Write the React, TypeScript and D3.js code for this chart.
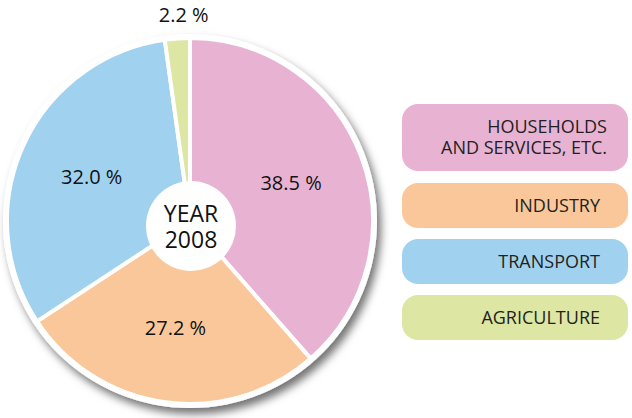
import React from "react";
import * as d3 from "d3";

const categories = ["HOUSEHOLDS AND SERVICES, ETC.", "INDUSTRY", "TRANSPORT", "AGRICULTURE"];
const legendLines = [["HOUSEHOLDS", "AND SERVICES, ETC."], ["INDUSTRY"], ["TRANSPORT"], ["AGRICULTURE"]];
const values = [38.5, 27.2, 32.0, 2.2];
const colors = ["#E8B3D3", "#FAC79A", "#A0D2EF", "#DDE6A3"];
const centerLines = ["YEAR", "2008"];

const W = 632;
const H = 418;
const cx = 190;
const cy = 221;
const R = 183;

export default function App() {
  const pie = d3
    .pie<number>()
    .sort(null)
    .value((d) => d)
    .startAngle(0)
    .endAngle(2 * Math.PI);
  const arcs = pie(values);
  const arc = d3.arc<d3.PieArcDatum<number>>().innerRadius(0).outerRadius(R);
  const labelArc = d3.arc<d3.PieArcDatum<number>>().innerRadius(108 * 2).outerRadius(0);
  const font = "'Open Sans', sans-serif";

  const legendY = d3.scaleOrdinal<number, number>().domain([0, 1, 2, 3]).range([104, 183, 239, 295]);

  return (
    <svg width={W} height={H} style={{ position: "absolute", left: 0, top: 0, background: "#fff" }}>
      <defs>
        <filter id="sh" x="-20%" y="-20%" width="140%" height="140%">
          <feDropShadow dx="4" dy="6" stdDeviation="4" floodColor="#000" floodOpacity="0.55" />
        </filter>
      </defs>
      <circle cx={cx} cy={cy} r={R + 4} fill="#fff" filter="url(#sh)" />
      <g transform={`translate(${cx},${cy})`}>
        {arcs.map((a, i) => (
          <path key={categories[i]} d={arc(a) || ""} fill={colors[i]} stroke="#fff" strokeWidth={4} strokeLinejoin="round" />
        ))}
        {arcs.map((a, i) => {
          const mid = (a.startAngle + a.endAngle) / 2;
          const r = values[i] < 5 ? 207 : 108;
          let x = Math.sin(mid) * r;
          let y = -Math.cos(mid) * r;
          if (values[i] < 5) x += 8;
          return (
            <text key={"l" + i} x={x} y={y} dy="0.36em" textAnchor="middle" fontFamily={font} fontSize={20} fill="#111">
              {`${values[i].toFixed(1)} %`}
            </text>
          );
        })}
      </g>
      <circle cx={cx + 1} cy={cy + 5} r={45} fill="#fff" />
      {centerLines.map((t, i) => (
        <text key={t} x={cx + 1} y={222 + i * 26} textAnchor="middle" fontFamily={font} fontSize={23} fill="#111">
          {t}
        </text>
      ))}
      {legendLines.map((lines, i) => {
        const y0 = legendY(i);
        const h = lines.length > 1 ? 67 : 45;
        const right = lines.length > 1 ? 607 : 600;
        return (
          <g key={categories[i]}>
            <rect x={402} y={y0} width={226} height={h} rx={16} ry={16} fill={colors[i]} />
            {lines.map((t, j) => (
              <text
                key={t}
                x={right}
                y={y0 + h / 2 + (j - (lines.length - 1) / 2) * 21}
                dy="0.36em"
                textAnchor="end"
                fontFamily={font}
                fontSize={18}
                fill="#231f20"
              >
                {t}
              </text>
            ))}
          </g>
        );
      })}
    </svg>
  );
}
